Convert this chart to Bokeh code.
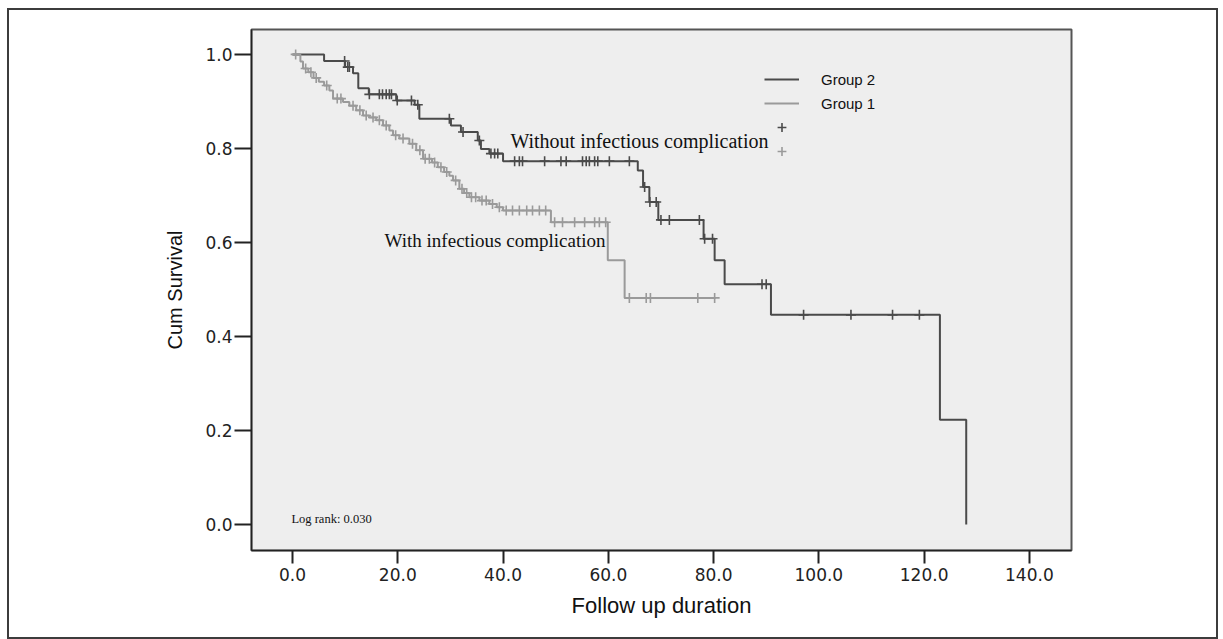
import numpy as np
from bokeh.plotting import figure
from bokeh.models import Range1d, FixedTicker, Legend, LegendItem, Label
from bokeh.embed import file_html
from bokeh.resources import INLINE

# ---------------- data ----------------
x_ticks = [0, 20, 40, 60, 80, 100, 120, 140]
y_ticks = [0.0, 0.2, 0.4, 0.6, 0.8, 1.0]

# Group 2 : without infectious complication (event time, survival after event)
g2_times = [6.0, 10.0, 11.5, 12.5, 14.5, 19.7, 23.2, 24.1, 30.1, 32.0, 35.2, 35.8,
            37.4, 40.0, 65.6, 66.6, 67.8, 69.5, 78.1, 80.2, 82.1, 90.9, 123.0, 128.0]
g2_surv = [0.986, 0.973, 0.960, 0.928, 0.915, 0.902, 0.893, 0.863, 0.849, 0.835, 0.817, 0.799,
           0.789, 0.773, 0.753, 0.718, 0.686, 0.648, 0.608, 0.562, 0.511, 0.446, 0.223, 0.0]
g2_censor = [9.9, 10.5, 10.8, 14.6, 16.5, 17.1, 17.8, 18.4, 18.8, 19.9, 22.6, 23.8,
             29.8, 32.4, 35.5, 37.7, 38.4, 39.0, 42.2, 43.1, 43.7, 47.9, 51.0, 52.0,
             55.1, 55.8, 56.4, 57.4, 58.0, 60.2, 64.0, 66.9, 67.9, 69.1, 70.0, 71.6,
             77.3, 78.3, 79.8, 89.2, 90.0, 97.1, 106.1, 114.0, 119.1]

# Group 1 : with infectious complication
g1_times = [1.5, 2.0, 3.0, 4.0, 5.0, 6.0, 7.0, 7.7, 9.6, 10.8, 12.1, 13.4, 14.6, 15.9,
            17.2, 18.4, 19.1, 20.3, 22.2, 23.5, 24.8, 26.5, 27.6, 28.8, 29.8, 30.5,
            31.7, 32.6, 33.6, 35.5, 37.4, 38.8, 40.0, 49.1, 59.9, 63.1]
g1_surv = [0.985, 0.970, 0.962, 0.950, 0.942, 0.934, 0.923, 0.906, 0.899, 0.891, 0.881,
           0.870, 0.866, 0.860, 0.849, 0.838, 0.828, 0.821, 0.810, 0.796, 0.778, 0.770,
           0.760, 0.750, 0.742, 0.732, 0.714, 0.705, 0.696, 0.689, 0.682, 0.675, 0.668,
           0.643, 0.562, 0.482]
g1_end = 80.4
g1_censor = [0.6, 2.5, 3.5, 4.5, 6.5, 8.5, 9.2, 11.5, 12.8, 14.0, 15.3, 16.5, 17.8,
             19.6, 21.0, 22.8, 24.2, 25.2, 26.0, 27.0, 28.2, 29.3, 31.0, 32.2, 33.1,
             34.0, 34.8, 36.0, 36.8, 38.0, 39.3, 40.6, 41.8, 43.1, 44.5, 45.6, 46.9,
             48.1, 49.8, 51.3, 53.6, 55.5, 57.4, 58.3, 59.5, 64.0, 67.2, 68.0, 77.0, 80.2]

group_labels = ["Group 2", "Group 1"]
annot_without = "Without infectious complication"
annot_with = "With infectious complication"
annot_logrank = "Log rank: 0.030"

DARK = "#4a4a4a"
LIGHT = "#9a9a9a"


def surv_at(times, surv, t):
    idx = np.searchsorted(np.array(times), t, side="right") - 1
    return 1.0 if idx < 0 else surv[idx]


p = figure(frame_width=820, frame_height=521,
           x_range=Range1d(-7.79, 148.0), y_range=Range1d(-0.0553, 1.053),
           output_backend="svg", toolbar_location=None,
           min_border_left=242, min_border_right=145,
           min_border_top=19, min_border_bottom=87)
p.styles = {"border": "2px solid #3c3c3c", "margin-left": "7px", "margin-top": "8px"}

p.background_fill_color = "#eeeeee"
p.border_fill_color = "white"
p.outline_line_color = "#555555"
p.outline_line_width = 2
p.grid.visible = False

# step curves
g2x = [0.0] + g2_times
g2y = [1.0] + g2_surv
g1x = [0.0] + g1_times + [g1_end]
g1y = [1.0] + g1_surv + [g1_surv[-1]]

r2 = p.step(g2x, g2y, mode="after", line_color=DARK, line_width=2)
r1 = p.step(g1x, g1y, mode="after", line_color=LIGHT, line_width=2)

c2y = [surv_at(g2_times, g2_surv, t) for t in g2_censor]
c1y = [surv_at(g1_times, g1_surv, t) for t in g1_censor]
rc2 = p.scatter(g2_censor, c2y, marker="cross", size=10, line_color=DARK, line_width=1.6)
rc1 = p.scatter(g1_censor, c1y, marker="cross", size=10, line_color=LIGHT, line_width=1.6)

# axes
for ax in (p.xaxis[0], p.yaxis[0]):
    ax.axis_line_color = "#222222"
    ax.axis_line_width = 1.5
    ax.major_tick_line_color = "#222222"
    ax.major_tick_line_width = 2
    ax.major_tick_in = 0
    ax.minor_tick_line_color = None
    ax.major_label_text_font = "DejaVu Sans"
    ax.major_label_text_font_size = "17px"
    ax.major_label_text_color = "#222222"
    ax.axis_label_text_font_style = "normal"
    ax.axis_label_text_color = "#111111"

p.xaxis.ticker = FixedTicker(ticks=x_ticks)
p.xaxis.major_label_overrides = {t: f"{t:.1f}" for t in x_ticks}
p.xaxis.major_tick_out = 13
p.xaxis.major_label_standoff = 4
p.xaxis.axis_label = "Follow up duration"
p.xaxis.axis_label_text_font = "Liberation Sans"
p.xaxis.axis_label_text_font_size = "22px"
p.xaxis.axis_label_standoff = 9

p.yaxis.ticker = FixedTicker(ticks=y_ticks)
p.yaxis.major_label_overrides = {t: f"{t:.1f}" for t in y_ticks}
p.yaxis.major_tick_out = 17
p.yaxis.major_label_standoff = 2
p.yaxis.axis_label = "Cum Survival"
p.yaxis.axis_label_text_font = "Liberation Sans"
p.yaxis.axis_label_text_font_size = "20px"
p.yaxis.axis_label_standoff = 16

# legend
legend = Legend(items=[LegendItem(label=group_labels[0], renderers=[r2]),
                       LegendItem(label=group_labels[1], renderers=[r1]),
                       LegendItem(label=" ", renderers=[rc2]),
                       LegendItem(label=" ", renderers=[rc1])],
                location=(513, 388), orientation="vertical")
legend.glyph_width = 35
legend.glyph_height = 22
legend.label_height = 22
legend.spacing = 2
legend.padding = 2
legend.margin = 0
legend.label_standoff = 22
legend.label_text_font = "Liberation Sans"
legend.label_text_font_size = "15px"
legend.label_text_color = "#111111"
legend.background_fill_alpha = 0
legend.border_line_color = None
p.add_layout(legend)

# annotations
p.add_layout(Label(x=41.4, y=0.815, text=annot_without, text_font="Liberation Serif",
                   text_font_size="20px", text_baseline="middle", text_color="#111111"))
p.add_layout(Label(x=17.5, y=0.604, text=annot_with, text_font="Liberation Serif",
                   text_font_size="19px", text_baseline="middle", text_color="#111111"))
p.add_layout(Label(x=-0.2, y=0.011, text=annot_logrank, text_font="Liberation Serif",
                   text_font_size="12.5px", text_baseline="middle", text_color="#111111"))

open("out.html", "w").write(file_html(p, INLINE))
